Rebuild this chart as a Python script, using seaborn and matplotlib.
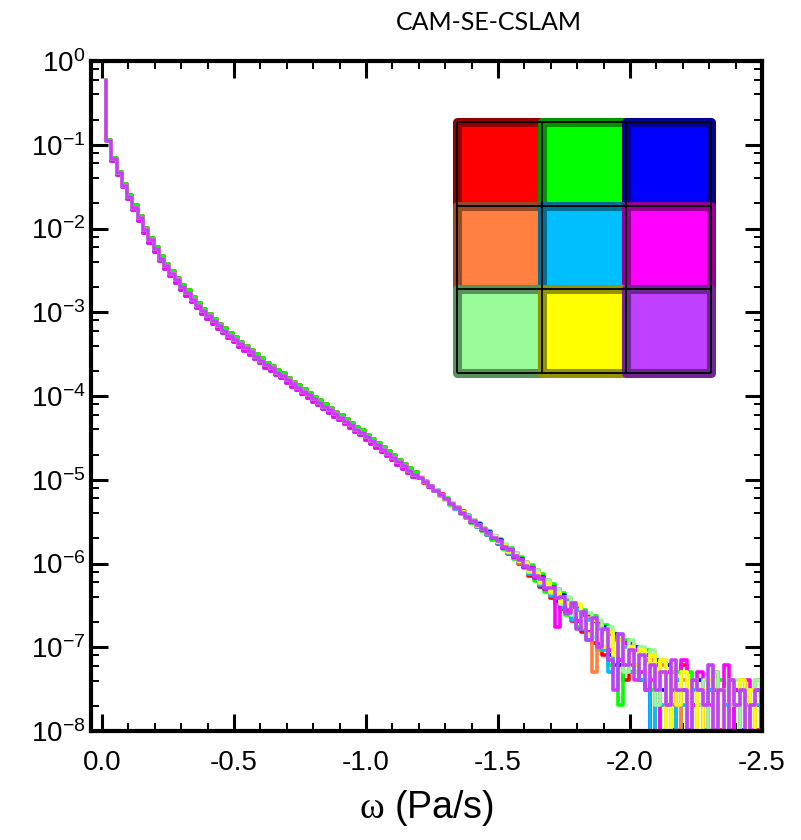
import numpy as np
import pandas as pd
import matplotlib
matplotlib.use("Agg")
import matplotlib.pyplot as plt
from matplotlib.colors import to_rgb
from matplotlib.patches import Rectangle
from matplotlib.ticker import FixedLocator, LogLocator, NullFormatter, MultipleLocator
import seaborn as sns

sns.set_theme(style="white")
plt.rcParams.update({
    "font.family": ["Liberation Sans", "DejaVu Sans"],
    "mathtext.fontset": "custom",
    "mathtext.rm": "Liberation Sans",
    "mathtext.it": "Liberation Serif",
    "mathtext.bf": "Liberation Sans:bold",
    "axes.unicode_minus": False,
})

# ---------------------------------------------------------------- data
# Histogram of vertical pressure velocity (ω < 0, upward), bins of 0.02 Pa/s
BIN_WIDTH = 0.02
FIRST_EDGE = 0.015
COUNT_PROB = 1.02e-8          # probability carried by a single sample

# Calm-air spike (log10 probability), common to all members
peak_log10 = -0.23

# Body of the distribution (log10 probability), ω from 0 to -1.2
body_upper = [
    -0.94, -1.16, -1.32, -1.47, -1.60, -1.72, -1.85, -1.99, -2.11, -2.22,
    -2.33, -2.42, -2.51, -2.59, -2.67, -2.74, -2.82, -2.89, -2.96, -3.02,
    -3.08, -3.14, -3.19, -3.25, -3.30, -3.35, -3.40, -3.45, -3.50, -3.55,
    -3.60, -3.64, -3.69, -3.73, -3.78, -3.83, -3.87, -3.92, -3.96, -4.01,
    -4.05, -4.10, -4.14, -4.19, -4.23, -4.28, -4.32, -4.37, -4.41, -4.46,
    -4.51, -4.56, -4.61, -4.66, -4.71, -4.76, -4.81, -4.86, -4.91,
]
body_center = [
    -0.95, -1.17, -1.34, -1.49, -1.62, -1.75, -1.88, -2.02, -2.14, -2.25,
    -2.36, -2.45, -2.54, -2.62, -2.70, -2.77, -2.85, -2.92, -2.99, -3.05,
    -3.11, -3.17, -3.22, -3.28, -3.33, -3.38, -3.43, -3.48, -3.53, -3.58,
    -3.63, -3.67, -3.72, -3.76, -3.81, -3.86, -3.90, -3.95, -3.99, -4.04,
    -4.08, -4.13, -4.17, -4.22, -4.26, -4.31, -4.35, -4.40, -4.44, -4.49,
    -4.54, -4.59, -4.64, -4.69, -4.74, -4.79, -4.84, -4.89, -4.94,
]
body_lower = [
    -0.96, -1.19, -1.36, -1.51, -1.65, -1.78, -1.91, -2.05, -2.17, -2.28,
    -2.39, -2.48, -2.57, -2.65, -2.73, -2.80, -2.88, -2.95, -3.02, -3.08,
    -3.14, -3.20, -3.25, -3.31, -3.36, -3.41, -3.46, -3.51, -3.56, -3.61,
    -3.66, -3.70, -3.75, -3.79, -3.84, -3.89, -3.93, -3.98, -4.02, -4.07,
    -4.11, -4.16, -4.20, -4.25, -4.29, -4.34, -4.38, -4.43, -4.47, -4.52,
    -4.57, -4.62, -4.67, -4.72, -4.77, -4.82, -4.87, -4.92, -4.97,
]

# Sample counts in the strong-updraft tail (ω from -1.2 to -2.5) per member
tail_red = [1058, 905, 832, 711, 660, 556, 521, 437, 410, 341,
            326, 268, 259, 214, 211, 168, 165, 128, 130, 98,
            101, 70, 82, 52, 63, 38, 48, 28, 37, 20,
            30, 15, 24, 11, 19, 8, 15, 6, 12, 4,
            11, 5, 9, 3, 8, 2, 7, 0, 5, 3,
            6, 1, 4, 2, 0, 3, 5, 1, 3, 0,
            2, 4, 0, 3, 1, 2]
tail_green = [1022, 941, 801, 744, 628, 590, 489, 466, 381, 369,
              298, 296, 238, 240, 189, 193, 146, 151, 110, 118,
              86, 95, 61, 74, 45, 56, 32, 44, 24, 33,
              17, 27, 12, 23, 9, 18, 6, 14, 2, 12,
              5, 10, 4, 9, 3, 7, 0, 6, 2, 5,
              0, 5, 2, 4, 1, 3, 0, 4, 2, 0,
              3, 0, 2, 3, 0, 3]
tail_blue = [1049, 930, 812, 735, 637, 579, 500, 455, 392, 360,
             308, 287, 246, 231, 196, 186, 152, 143, 117, 111,
             90, 86, 66, 67, 49, 51, 35, 41, 26, 32,
             20, 25, 15, 20, 11, 17, 8, 14, 6, 11,
             5, 10, 4, 8, 0, 7, 3, 6, 1, 4,
             3, 0, 2, 4, 0, 3, 1, 3, 0, 2,
             3, 1, 0, 2, 3, 0]
tail_orange = [1031, 915, 826, 718, 652, 565, 512, 441, 404, 347,
               319, 275, 256, 220, 206, 175, 160, 132, 124, 100,
               98, 76, 76, 56, 59, 42, 45, 31, 35, 23,
               27, 17, 22, 5, 18, 10, 14, 8, 12, 6,
               10, 6, 9, 4, 7, 0, 6, 2, 5, 1,
               4, 2, 0, 3, 4, 1, 3, 0, 3, 2,
               0, 3, 2, 0, 4, 2]
tail_cyan = [1036, 918, 815, 722, 640, 566, 503, 444, 394, 349,
             318, 270, 256, 217, 205, 172, 161, 131, 124, 101,
             96, 74, 75, 55, 57, 40, 44, 29, 34, 21,
             27, 16, 21, 13, 16, 9, 5, 12, 7, 10,
             5, 9, 4, 7, 0, 6, 2, 5, 0, 4,
             2, 0, 3, 2, 1, 3, 0, 3, 2, 0,
             2, 3, 0, 3, 2, 1]
tail_magenta = [1029, 928, 808, 731, 636, 576, 497, 452, 390, 356,
                305, 284, 243, 228, 195, 182, 152, 141, 116, 108,
                88, 86, 65, 66, 48, 51, 17, 39, 27, 30,
                20, 24, 15, 20, 11, 16, 9, 13, 7, 11,
                6, 9, 5, 8, 4, 6, 0, 5, 3, 2,
                7, 1, 2, 5, 0, 2, 3, 0, 6, 1,
                3, 0, 4, 1, 0, 3]
tail_lightgreen = [1052, 933, 825, 732, 650, 577, 513, 454, 404, 358,
                   322, 281, 262, 226, 211, 178, 166, 139, 130, 105,
                   103, 78, 81, 58, 62, 43, 49, 32, 39, 24,
                   31, 18, 25, 13, 21, 10, 17, 8, 14, 5,
                   12, 5, 10, 4, 9, 2, 7, 0, 6, 3,
                   5, 0, 4, 2, 4, 1, 5, 0, 3, 2,
                   4, 0, 3, 2, 4, 0]
tail_yellow = [1044, 925, 820, 722, 648, 568, 510, 446, 401, 350,
               316, 278, 254, 224, 204, 177, 160, 136, 124, 104,
               97, 79, 75, 59, 57, 45, 43, 34, 33, 26,
               32, 17, 14, 21, 12, 10, 15, 8, 12, 6,
               10, 6, 9, 5, 8, 3, 7, 0, 6, 2,
               5, 2, 4, 0, 3, 4, 1, 3, 0, 4,
               2, 4, 1, 3, 0, 4]
tail_purple = [1038, 920, 816, 728, 642, 573, 505, 450, 396, 355,
               312, 283, 250, 228, 200, 182, 156, 141, 120, 109,
               92, 84, 70, 64, 50, 50, 38, 39, 25, 33,
               16, 26, 12, 22, 10, 16, 7, 3, 14, 6,
               9, 4, 8, 3, 6, 3, 5, 2, 7, 3,
               3, 1, 4, 3, 2, 6, 1, 3, 0, 4,
               2, 3, 0, 2, 3, 1]

members = ["m11", "m12", "m13", "m21", "m22", "m23", "m31", "m32", "m33"]
member_colors = ["#ff0000", "#00ff00", "#0000ff",
                 "#ff8040", "#00bfff", "#ff00ff",
                 "#98fb98", "#ffff00", "#c040ff"]
bodies = [body_upper, body_upper, body_lower,
          body_center, body_lower, body_lower,
          body_center, body_center, body_center]
tails = [tail_red, tail_green, tail_blue, tail_orange, tail_cyan,
         tail_magenta, tail_lightgreen, tail_yellow, tail_purple]

x_ticks = [0.0, -0.5, -1.0, -1.5, -2.0, -2.5]
x_tick_labels = ["0.0", "-0.5", "-1.0", "-1.5", "-2.0", "-2.5"]

# ---------------------------------------------------------------- table
rows = []
for name, body, tail in zip(members, bodies, tails):
    probs = ([10.0 ** peak_log10] + [10.0 ** v for v in body]
             + [c * COUNT_PROB for c in tail])
    for i, p in enumerate(probs):
        rows.append((name, -(FIRST_EDGE + BIN_WIDTH * i), p))
df = pd.DataFrame(rows, columns=["member", "omega", "prob"])

# ---------------------------------------------------------------- figure
fig = plt.figure(figsize=(8.01, 8.40), dpi=100)
ax = fig.add_axes([91 / 801, 1 - 731 / 840, 671 / 801, 670 / 840])

sns.lineplot(data=df, x="omega", y="prob", hue="member", hue_order=members,
             palette=dict(zip(members, member_colors)), drawstyle="steps-pre",
             linewidth=2.6, legend=False, estimator=None, sort=False, ax=ax)

ax.set_yscale("log", nonpositive="clip")
ax.set_ylim(1e-8, 1.0)
ax.set_xlim(0.042, -2.5)

ax.xaxis.set_major_locator(FixedLocator(x_ticks))
ax.set_xticklabels(x_tick_labels)
ax.xaxis.set_minor_locator(MultipleLocator(0.1))
ax.yaxis.set_major_locator(LogLocator(base=10, numticks=20))
ax.yaxis.set_minor_locator(LogLocator(base=10, subs=(2, 4, 6, 8), numticks=20))
ax.yaxis.set_minor_formatter(NullFormatter())

ax.tick_params(which="both", direction="in", top=True, right=True,
               bottom=True, left=True, colors="black")
ax.tick_params(which="major", length=12, width=2.2, labelsize=20)
ax.tick_params(which="minor", length=5.5, width=1.4)
ax.tick_params(axis="x", which="major", pad=14)
ax.tick_params(axis="y", which="major", pad=4)
for s in ax.spines.values():
    s.set_linewidth(3)
    s.set_color("black")
ax.grid(False)

ax.set_xlabel(r"$\omega$ (Pa/s)", fontsize=27, labelpad=8, color="black")
ax.set_ylabel("")

fig.text(489 / 801, 1 - 22 / 840, "CAM-SE-CSLAM", ha="center", va="center",
         fontsize=18, family=["Liberation Sans Narrow", "Lato", "DejaVu Sans"],
         color="black")

# ---------------------------------------------------------------- colour key
key = fig.add_axes([457 / 801, 1 - 373 / 840, 254 / 801, 251 / 840])
key.set_xlim(0, 3)
key.set_ylim(3, 0)
key.axis("off")
for k, col in enumerate(member_colors):
    r, c = divmod(k, 3)
    dark = tuple(0.58 * ch for ch in to_rgb(col))
    key.add_patch(Rectangle((c, r), 1, 1, facecolor=col, edgecolor=dark,
                            linewidth=6.5, joinstyle="round", clip_on=False))
for v in range(4):
    key.plot([v, v], [0, 3], color="black", lw=1.3, clip_on=False,
             solid_capstyle="butt")
    key.plot([0, 3], [v, v], color="black", lw=1.3, clip_on=False,
             solid_capstyle="butt")

fig.savefig("out.png", dpi=100)
